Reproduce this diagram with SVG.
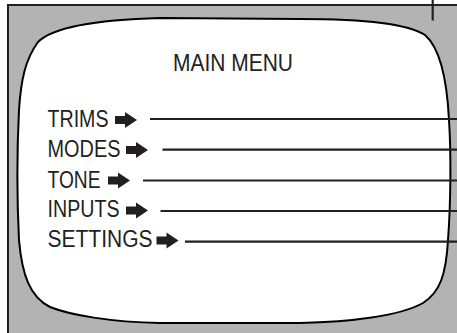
<svg xmlns="http://www.w3.org/2000/svg" width="457" height="333" viewBox="0 0 457 333">
  <style>
    .txt { font-family: "Liberation Sans", Arial, sans-serif; font-size: 23.5px; fill: #231f20; }
    .ln { stroke: #231f20; stroke-width: 2.2; fill: none; }
    .arw { fill: #231f20; }
  </style>
  <defs>
    <path id="arrow" d="M0,-4 H10 V-8 L22,0 L10,8 V4 H0 Z"/>
  </defs>
  <rect width="457" height="333" fill="#ffffff"/>
  <g id="bezel">
    <rect x="8" y="5" width="460" height="340" fill="#b3b3b3" stroke="#231f20" stroke-width="2"/>
    <line x1="432.7" y1="0" x2="432.7" y2="20.5" stroke="#231f20" stroke-width="2.2"/>
  </g>
  <g id="screen">
    <path d="M160,18 L300,19 C370,19 410,25 425,35 C440,48 447,80 449,120 C451,150 451,200 448,240 C446,275 440,292 423,303 C400,316 350,322 300,323 L160,323 C110,322 70,315 50,307 C30,297 22,275 19,240 C17,200 17,150 19,110 C21,80 25,60 38,42 C52,28 90,20 160,18 Z" fill="#ffffff" stroke="#000000" stroke-width="2"/>
  </g>
  <g id="title">
    <text class="txt" x="173" y="71" textLength="120" lengthAdjust="spacingAndGlyphs">MAIN MENU</text>
  </g>
  <g id="connectors">
    <line class="ln" x1="150" y1="119" x2="457" y2="119"/>
    <line class="ln" x1="162.5" y1="149.7" x2="457" y2="149.7"/>
    <line class="ln" x1="143" y1="180.5" x2="457" y2="180.5"/>
    <line class="ln" x1="160.5" y1="211" x2="457" y2="211"/>
    <line class="ln" x1="185" y1="241.7" x2="457" y2="241.7"/>
  </g>
  <g id="trims">
    <text class="txt" x="47.5" y="127" textLength="61" lengthAdjust="spacingAndGlyphs">TRIMS</text>
    <use href="#arrow" class="arw" x="115" y="120"/>
  </g>
  <g id="modes">
    <text class="txt" x="47.5" y="157" textLength="73" lengthAdjust="spacingAndGlyphs">MODES</text>
    <use href="#arrow" class="arw" x="126" y="150"/>
  </g>
  <g id="tone">
    <text class="txt" x="47.5" y="187.5" textLength="53" lengthAdjust="spacingAndGlyphs">TONE</text>
    <use href="#arrow" class="arw" x="108" y="180.5"/>
  </g>
  <g id="inputs">
    <text class="txt" x="47.5" y="217" textLength="72" lengthAdjust="spacingAndGlyphs">INPUTS</text>
    <use href="#arrow" class="arw" x="126" y="210.5"/>
  </g>
  <g id="settings">
    <text class="txt" x="47.5" y="247" textLength="105" lengthAdjust="spacingAndGlyphs">SETTINGS</text>
    <use href="#arrow" class="arw" x="156.5" y="240.5"/>
  </g>
</svg>
